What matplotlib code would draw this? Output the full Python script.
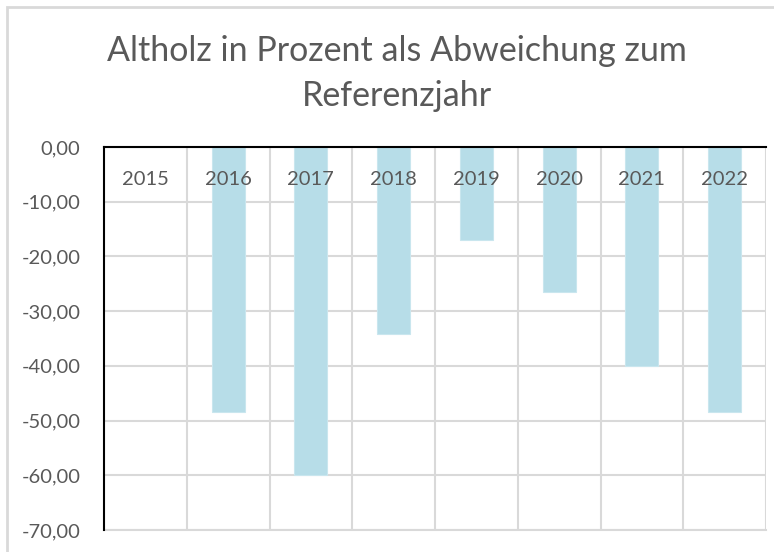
import matplotlib.pyplot as plt
from matplotlib.patches import Rectangle
from matplotlib.ticker import FuncFormatter, FixedLocator

years = ["2015", "2016", "2017", "2018", "2019", "2020", "2021", "2022"]
values = [0.0, -48.5, -60.0, -34.2, -17.0, -26.5, -40.0, -48.5]
yticks = [0, -10, -20, -30, -40, -50, -60, -70]

grey = "#595959"
gridc = "#D9D9D9"
plt.rcParams["font.family"] = ["Lato", "DejaVu Sans"]

fig = plt.figure(figsize=(7.74, 5.52), dpi=100)
# chart frame from the spreadsheet
fig.patches.append(Rectangle((7 / 774, -0.1), 1.2, 1.1 - 7 / 552,
                             transform=fig.transFigure, fill=False,
                             edgecolor=gridc, linewidth=2))

ax = fig.add_axes([104 / 774, 1 - 530 / 552, 662 / 774, 383 / 552])

x = list(range(len(years)))
ax.bar(x, values, width=0.4, color="#B7DDE8", edgecolor="#C9E6EE",
       linewidth=0.8, zorder=2)

ax.set_xlim(-0.5, len(years) - 0.5)
ax.set_ylim(-70, 0)
ax.set_yticks(yticks)
ax.yaxis.set_major_formatter(FuncFormatter(lambda v, p: f"{v:.2f}".replace(".", ",")))
ax.tick_params(axis="y", length=0, labelsize=14.5, labelcolor=grey, pad=17)

# category labels sit just under the zero line, on top of the bars
ax.set_xticks(x)
ax.set_xticklabels([])
ax.tick_params(axis="x", which="both", bottom=False, top=False, length=0)
for xi, yr in zip(x, years):
    ax.text(xi, -6.0, yr, ha="center", va="center", fontsize=14.5,
            color=grey, zorder=5)

ax.xaxis.set_minor_locator(FixedLocator([i + 0.5 for i in range(len(years))]))
ax.grid(axis="x", which="minor", color=gridc, linewidth=1.5)
ax.grid(axis="y", which="major", color=gridc, linewidth=1.5)
ax.set_axisbelow(True)

for s in ["right", "bottom"]:
    ax.spines[s].set_visible(False)
ax.spines["left"].set_color("black")
ax.spines["top"].set_color("black")
ax.spines["left"].set_linewidth(1.5)
ax.spines["top"].set_linewidth(1.5)
ax.axhline(-70, color=gridc, linewidth=1.5, zorder=1, clip_on=False)

fig.text(397 / 774, 1 - 35 / 552, "Altholz in Prozent als Abweichung zum\nReferenzjahr",
         ha="center", va="top", fontsize=24.5, color=grey, linespacing=1.5)

fig.savefig("out.png", dpi=100)
